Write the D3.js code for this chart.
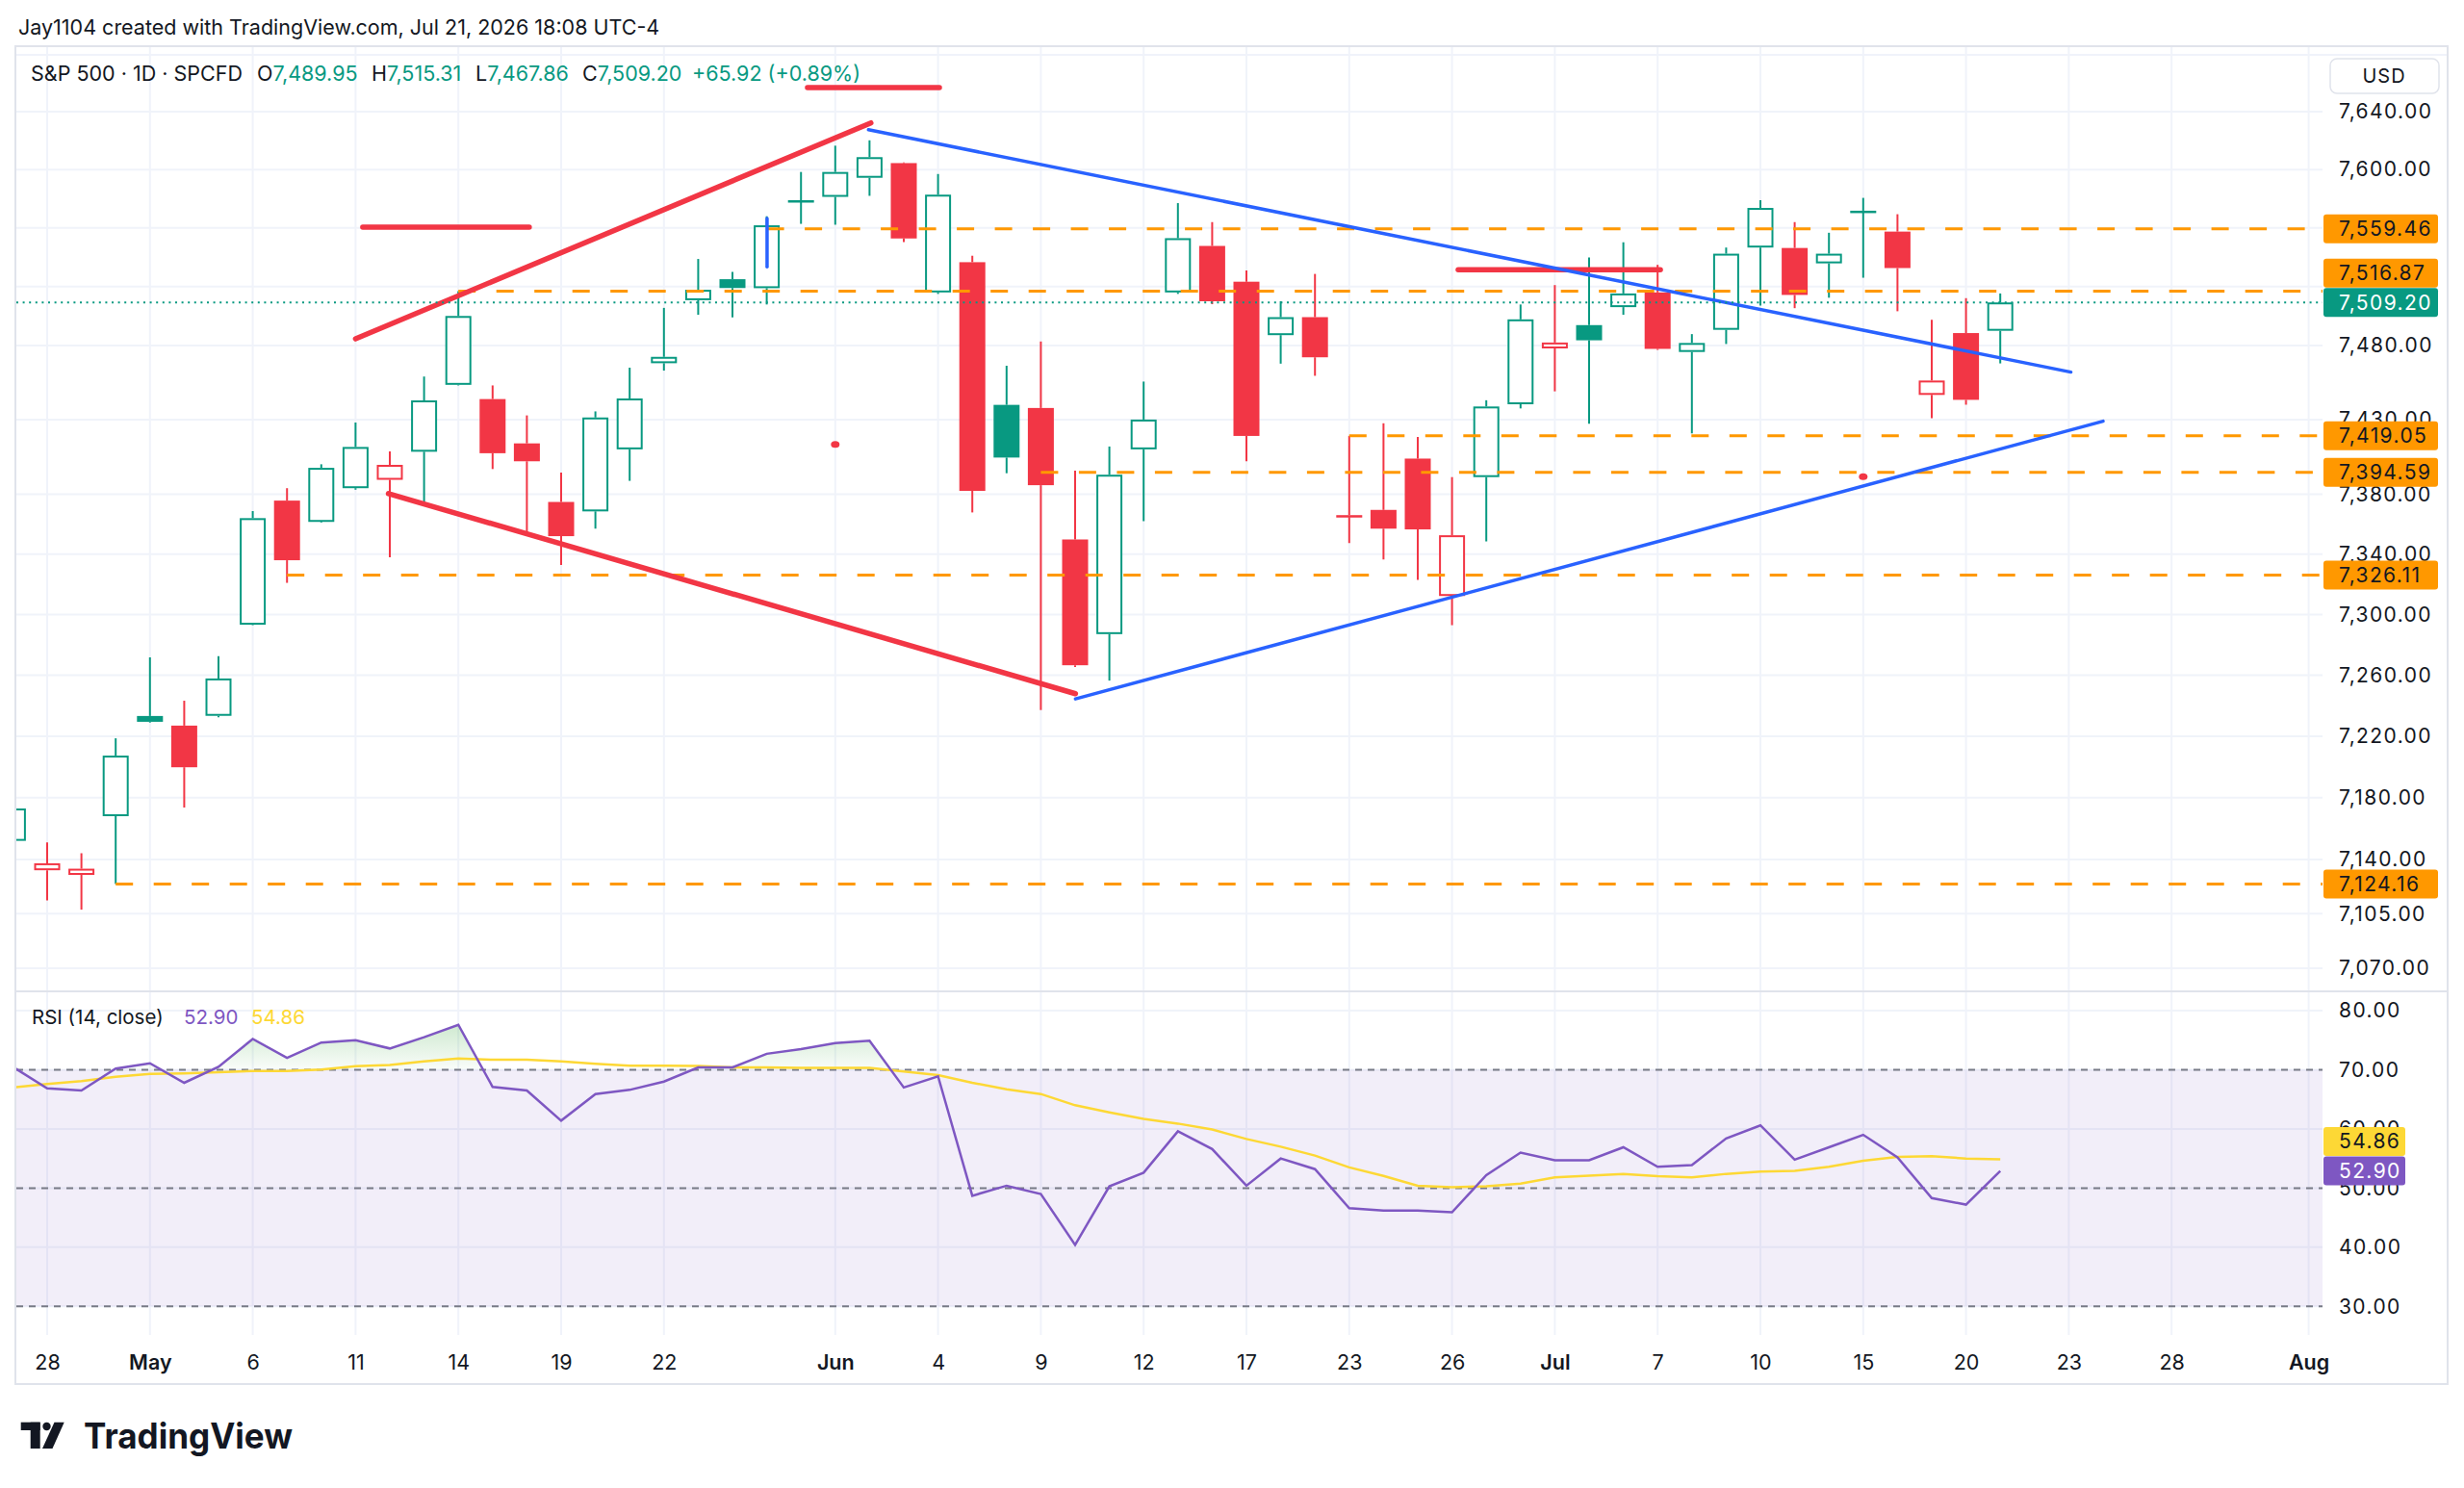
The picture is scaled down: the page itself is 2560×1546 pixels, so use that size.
<!DOCTYPE html>
<html>
<head>
<meta charset="utf-8">
<script src="https://cdn.jsdelivr.net/npm/d3@7"></script>
<style>
  html, body { margin: 0; padding: 0; background: #fff; }
  svg { display: block; font-family: Inter, "Noto Sans", sans-serif; }
</style>
</head>
<body>
<svg id="chart" width="2560" height="1546"></svg>
<script>
// trading sessions shown on the time scale (Apr 27 is cut at the left edge)
const sessions = [
  'Apr 27', 'Apr 28', 'Apr 29', 'Apr 30', 'May 1', 'May 4', 'May 5', 'May 6', 'May 7', 'May 8',
  'May 11', 'May 12', 'May 13', 'May 14', 'May 15', 'May 18', 'May 19', 'May 20', 'May 21', 'May 22',
  'May 26', 'May 27', 'May 28', 'May 29', 'Jun 1', 'Jun 2', 'Jun 3', 'Jun 4', 'Jun 5', 'Jun 8',
  'Jun 9', 'Jun 10', 'Jun 11', 'Jun 12', 'Jun 15', 'Jun 16', 'Jun 17', 'Jun 18', 'Jun 22', 'Jun 23',
  'Jun 24', 'Jun 25', 'Jun 26', 'Jun 29', 'Jun 30', 'Jul 1', 'Jul 2', 'Jul 6', 'Jul 7', 'Jul 8',
  'Jul 9', 'Jul 10', 'Jul 13', 'Jul 14', 'Jul 15', 'Jul 16', 'Jul 17', 'Jul 20', 'Jul 21', 'Jul 22',
  'Jul 23', 'Jul 24', 'Jul 27', 'Jul 28', 'Jul 29', 'Jul 30', 'Jul 31', 'Aug 3'
];

const open = [
  7152, 7133, 7130, 7168, 7233.3, 7227, 7233.4, 7293.3, 7375.7, 7361.5,
  7384, 7389.6, 7408.4, 7453.4, 7443.8, 7414, 7374.8, 7368.5, 7410, 7468,
  7510.7, 7525, 7518.9, 7578.5, 7581.3, 7594.4, 7604.5, 7516, 7536.6, 7439.9,
  7437.8, 7349.8, 7287.1, 7410, 7516, 7547.7, 7523.3, 7487, 7499.2, 7366,
  7369.5, 7403.8, 7312.3, 7391.4, 7440.3, 7478, 7493.8, 7506, 7516, 7475.6,
  7490.6, 7546.6, 7546.3, 7535.8, 7571.5, 7557.5, 7446.6, 7488.4, 7489.95
];
const high = [
  7178, 7151, 7144, 7218.7, 7271.8, 7243.3, 7272.6, 7368.7, 7384, 7400,
  7428, 7408.7, 7459, 7516.87, 7453, 7432.8, 7394.4, 7435.5, 7465, 7505.5,
  7538.8, 7530, 7568, 7598.4, 7616.5, 7620.2, 7605, 7597, 7541, 7466.3,
  7482.7, 7395.8, 7411.9, 7455.6, 7577, 7564, 7531, 7510, 7528.6, 7419.05,
  7427.5, 7418.3, 7391.4, 7443, 7507.8, 7521, 7539.8, 7550.2, 7534.8, 7487.7,
  7546.6, 7579, 7564, 7556.7, 7580.6, 7569.4, 7497.4, 7512.1, 7515.31
];
const low = [
  7148, 7113.5, 7107.6, 7124.16, 7229, 7173.6, 7232.5, 7293, 7321, 7361,
  7383, 7338, 7374.5, 7453, 7396.8, 7354.4, 7332.8, 7357, 7388.9, 7463,
  7500.8, 7499, 7507.8, 7562.8, 7562.2, 7582, 7550.3, 7515, 7367.8, 7394,
  7237.2, 7265.4, 7256.5, 7362, 7515, 7508, 7402, 7467.7, 7459.5, 7347.4,
  7336.5, 7323, 7293, 7348.5, 7437.5, 7449, 7427.2, 7500.8, 7477, 7420.7,
  7481, 7507, 7505.3, 7512.4, 7526, 7503.2, 7431, 7440, 7467.86
];
const close = [
  7173, 7137.5, 7134, 7207.4, 7229.5, 7199.8, 7257.9, 7364, 7336, 7397.6,
  7411.6, 7399.6, 7442.9, 7500, 7407.4, 7402, 7352, 7431.4, 7444.2, 7472.3,
  7517.8, 7519, 7561.8, 7579, 7598.4, 7608.6, 7552.8, 7582.8, 7382.2, 7404.5,
  7386, 7266.6, 7393, 7430, 7553, 7510, 7419, 7499.2, 7472, 7366,
  7357, 7356.5, 7352.6, 7438.8, 7497.7, 7482, 7483.5, 7515.3, 7477.7, 7481.7,
  7542.4, 7573.7, 7514.3, 7542.4, 7571.8, 7532.6, 7456.3, 7443.28, 7509.20
];

const rsi = [
  70.5, 66.85, 66.5, 70.2, 71.1, 67.8, 70.5, 75.2, 72.0, 74.6,
  75.0, 73.6, 75.5, 77.6, 67.1, 66.5, 61.4, 65.9, 66.6, 68.0,
  70.4, 70.4, 72.7, 73.5, 74.5, 74.9, 67.0, 68.9, 48.7, 50.4,
  49.0, 40.4, 50.3, 52.6, 59.6, 56.6, 50.4, 55.0, 53.2, 46.6,
  46.2, 46.2, 45.9, 52.2, 56.0, 54.7, 54.7, 56.9, 53.6, 53.9,
  58.4, 60.6, 54.8, 56.9, 59.0, 55.2, 48.3, 47.2, 52.90
];
const rsiMa = [
  67.0, 67.6, 68.1, 68.8, 69.3, 69.4, 69.6, 69.8, 69.8, 70.05,
  70.6, 70.8, 71.4, 71.9, 71.7, 71.7, 71.4, 71.0, 70.7, 70.7,
  70.65, 70.4, 70.4, 70.3, 70.3, 70.3, 69.7, 69.1, 67.8, 66.7,
  65.9, 64.0, 62.8, 61.7, 60.9, 59.9, 58.3, 57.0, 55.5, 53.5,
  52.05, 50.4, 50.15, 50.3, 50.75, 51.8, 52.1, 52.4, 52.0, 51.8,
  52.4, 52.8, 52.9, 53.6, 54.6, 55.25, 55.4, 55.0, 54.86
];

const priceTicks = [7640, 7600, 7560, 7520, 7480, 7430, 7380, 7340, 7300, 7260, 7220, 7180, 7140, 7105, 7070];
const rsiTicks = [80, 70, 60, 50, 40, 30];
const rsiBands = [70, 50, 30];

const tickDays = ['Apr 28', 'May 1', 'May 6', 'May 11', 'May 14', 'May 19', 'May 22', 'Jun 1', 'Jun 4', 'Jun 9', 'Jun 12',
  'Jun 17', 'Jun 23', 'Jun 26', 'Jul 1', 'Jul 7', 'Jul 10', 'Jul 15', 'Jul 20', 'Jul 23', 'Jul 28', 'Aug 3'];
const tickText = ['28', 'May', '6', '11', '14', '19', '22', 'Jun', '4', '9', '12',
  '17', '23', '26', 'Jul', '7', '10', '15', '20', '23', '28', 'Aug'];
const monthTicks = ['May', 'Jun', 'Jul', 'Aug'];

// horizontal rays and where they start
const levels = [7559.46, 7516.87, 7419.05, 7394.59, 7326.11, 7124.16];
const levelStart = ['May 28', 'May 14', 'Jun 23', 'Jun 9', 'May 7', 'Apr 30'];

// hand drawn lines, [session index, price]
const redLines = [
  [[10.0, 7484.5], [25.04, 7632.2]],
  [[10.96, 7380.4], [31.01, 7247.9]],
  [[10.21, 7560.5], [15.07, 7560.5]],
  [[23.19, 7656.7], [27.04, 7656.7]],
  [[42.18, 7531.5], [48.08, 7531.5]]
];
const blueLines = [
  [[24.97, 7627.5], [60.06, 7462.0]],
  [[31.01, 7244.5], [61.0, 7428.9]],
  [[22.01, 7566.5], [22.01, 7533.4]]
];
const redDots = [[24.0, 7413.3], [54.0, 7391.7]];

const green = '#089981', red = '#F23645', orange = '#FF9800', blue = '#2962FF',
      purple = '#7E57C2', yellow = '#FDD835', ink = '#131722', grid = '#F0F3FA', border = '#E0E3EB';

const left = 17, right = 2413, mainTop = 57, mainBottom = 1029, rsiTop = 1031, rsiBottom = 1387;

let svg = d3.select('#chart');
svg.append('rect').attr('width', 2560).attr('height', 1546).attr('fill', '#fff');

let x = d3.scaleLinear().domain([0, sessions.length - 1]).range([13.4, 13.4 + 35.6 * (sessions.length - 1)]),
    xd = d => x(sessions.indexOf(d)),
    y = d3.scaleLog().domain([7640, 7070]).range([116, 1006]),
    yR = d3.scaleLinear().domain([30, 80]).range([1357.3, 1050]);

let defs = svg.append('defs');
defs.append('clipPath').attr('id', 'clipMain')
  .append('rect').attr('x', left).attr('y', mainTop).attr('width', right - left).attr('height', mainBottom - mainTop);
defs.append('clipPath').attr('id', 'clipRsi')
  .append('rect').attr('x', left).attr('y', rsiTop).attr('width', right - left).attr('height', rsiBottom - rsiTop);
defs.append('clipPath').attr('id', 'clipOver')
  .append('rect').attr('x', left).attr('y', rsiTop).attr('width', right - left).attr('height', yR(70) - rsiTop);
let grad = defs.append('linearGradient').attr('id', 'obFill')
  .attr('gradientUnits', 'userSpaceOnUse').attr('x1', 0).attr('x2', 0).attr('y1', yR(78)).attr('y2', yR(70));
grad.append('stop').attr('offset', 0).attr('stop-color', '#4CAF50').attr('stop-opacity', 0.28);
grad.append('stop').attr('offset', 1).attr('stop-color', '#4CAF50').attr('stop-opacity', 0.03);

// grid
let gridG = svg.append('g').attr('stroke', grid).attr('stroke-width', 2);
gridG.selectAll('.vgrid').data(tickDays).enter().append('line')
  .attr('x1', d => xd(d)).attr('x2', d => xd(d)).attr('y1', 48).attr('y2', rsiBottom);
gridG.selectAll('.hgrid').data(priceTicks).enter().append('line')
  .attr('x1', left).attr('x2', right).attr('y1', d => y(d)).attr('y2', d => y(d));
gridG.selectAll('.rgrid').data(rsiTicks).enter().append('line')
  .attr('x1', left).attr('x2', right).attr('y1', d => yR(d)).attr('y2', d => yR(d));
gridG.append('line').attr('x1', left).attr('x2', 2543).attr('y1', mainTop).attr('y2', mainTop);

// candles
let candles = open.map((o, i) => ({
  pos: i, o, h: high[i], l: low[i], c: close[i], prev: i ? close[i - 1] : o
}));
let bw = 27;
let cg = svg.append('g').attr('clip-path', 'url(#clipMain)');
cg.selectAll('.candle').data(candles).enter().append('g')
  .attr('class', 'candle')
  .each(function (d) {
    let g = d3.select(this),
        col = d.c >= d.prev ? green : red,
        hollow = d.c >= d.o,
        cx = x(d.pos),
        top = y(Math.max(d.o, d.c)),
        bot = y(Math.min(d.o, d.c)),
        hgt = Math.max(bot - top, 2);
    g.append('line').attr('x1', cx).attr('x2', cx).attr('y1', y(d.h)).attr('y2', top)
      .attr('stroke', col).attr('stroke-width', 2);
    g.append('line').attr('x1', cx).attr('x2', cx).attr('y1', top + hgt).attr('y2', y(d.l))
      .attr('stroke', col).attr('stroke-width', 2);
    if (hollow) {
      g.append('rect').attr('x', cx - bw / 2 + 1).attr('y', top + 1)
        .attr('width', bw - 2).attr('height', Math.max(hgt - 2, 0.5))
        .attr('fill', '#fff').attr('stroke', col).attr('stroke-width', 2);
    } else {
      g.append('rect').attr('x', cx - bw / 2).attr('y', top)
        .attr('width', bw).attr('height', hgt).attr('fill', col);
    }
  });

// drawings
let dg = svg.append('g').attr('clip-path', 'url(#clipMain)');
dg.selectAll('.level').data(levels).enter().append('line')
  .attr('x1', (d, i) => xd(levelStart[i])).attr('x2', right)
  .attr('y1', d => y(d)).attr('y2', d => y(d))
  .attr('stroke', orange).attr('stroke-width', 3).attr('stroke-dasharray', '18 21.5');

let seg = d3.line().x(d => x(d[0])).y(d => y(d[1]));
dg.selectAll('.red-line').data(redLines).enter().append('path')
  .attr('d', seg).attr('fill', 'none').attr('stroke', red)
  .attr('stroke-width', 5.5).attr('stroke-linecap', 'round');
dg.selectAll('.blue-line').data(blueLines).enter().append('path')
  .attr('d', seg).attr('fill', 'none').attr('stroke', blue)
  .attr('stroke-width', 3.5).attr('stroke-linecap', 'round');
dg.selectAll('.dot').data(redDots).enter().append('ellipse')
  .attr('cx', d => x(d[0])).attr('cy', d => y(d[1])).attr('rx', 4.5).attr('ry', 3.5).attr('fill', red);

let last = candles[candles.length - 1];
dg.append('line').attr('x1', left).attr('x2', right).attr('y1', y(last.c)).attr('y2', y(last.c))
  .attr('stroke', green).attr('stroke-width', 2).attr('stroke-dasharray', '2 4.6');

// RSI pane
let rg = svg.append('g').attr('clip-path', 'url(#clipRsi)');
rg.append('rect').attr('x', left).attr('width', right - left)
  .attr('y', yR(70)).attr('height', yR(30) - yR(70)).attr('fill', 'rgba(126,87,194,0.1)');
rg.append('path').datum(rsi)
  .attr('clip-path', 'url(#clipOver)')
  .attr('d', d3.area().x((d, i) => x(i)).y0(yR(70)).y1(d => yR(d)))
  .attr('fill', 'url(#obFill)');
rg.selectAll('.band').data(rsiBands).enter().append('line')
  .attr('x1', left).attr('x2', right).attr('y1', d => yR(d)).attr('y2', d => yR(d))
  .attr('stroke', '#787B86').attr('stroke-width', 2).attr('stroke-dasharray', '7 6');
rg.append('path').datum(rsiMa)
  .attr('d', d3.line().x((d, i) => x(i)).y(d => yR(d)))
  .attr('fill', 'none').attr('stroke', yellow).attr('stroke-width', 2.5);
rg.append('path').datum(rsi)
  .attr('d', d3.line().x((d, i) => x(i)).y(d => yR(d)))
  .attr('fill', 'none').attr('stroke', purple).attr('stroke-width', 2.5);

// frame and pane divider
svg.append('rect').attr('x', 16).attr('y', 48).attr('width', 2527).attr('height', 1390)
  .attr('fill', 'none').attr('stroke', border).attr('stroke-width', 2);
svg.append('line').attr('x1', 16).attr('x2', 2543).attr('y1', 1030).attr('y2', 1030)
  .attr('stroke', border).attr('stroke-width', 2);

// price scale labels, pushed apart when they collide
let fmt = d3.format(',.2f');
function placeLabels (items, h) {
  let placed = [];
  items.forEach(it => {
    let cy = it.y, moved = true;
    while (moved) {
      moved = false;
      placed.forEach(p => {
        if (Math.abs(p.cy - cy) < h) {
          cy = it.y <= p.y ? p.cy - h : p.cy + h;
          moved = true;
        }
      });
    }
    placed.push(Object.assign({}, it, { cy }));
  });
  return placed;
}

let priceLabels = placeLabels(
  [{ y: y(last.c), text: fmt(last.c), bg: green, fg: '#fff' }]
    .concat(levels.map(v => ({ y: y(v), text: fmt(v), bg: orange, fg: ink }))),
  30.5);
let rsiLabels = placeLabels([
  { y: yR(rsi[rsi.length - 1]), text: rsi[rsi.length - 1].toFixed(2), bg: purple, fg: '#fff' },
  { y: yR(rsiMa[rsiMa.length - 1]), text: rsiMa[rsiMa.length - 1].toFixed(2), bg: yellow, fg: ink }
], 30.5);

// a tick label sitting wholly under the label boxes is not shown
let covered = v => [-7, 0, 7].every(o => priceLabels.some(p => Math.abs(y(v) + o - p.cy) <= 15));

// axes
let yAxis = svg.append('g').attr('transform', `translate(${right},0)`)
  .call(d3.axisRight(y).tickValues(priceTicks.filter(v => !covered(v)))
    .tickFormat(fmt).tickSize(0).tickPadding(17));
let rAxis = svg.append('g').attr('transform', `translate(${right},0)`)
  .call(d3.axisRight(yR).tickValues(rsiTicks).tickFormat(d3.format('.2f')).tickSize(0).tickPadding(17));
let xAxis = svg.append('g').attr('transform', 'translate(0,1415)')
  .call(d3.axisBottom(x).tickValues(tickDays.map(d => sessions.indexOf(d)))
    .tickFormat((d, i) => tickText[i]).tickSize(0).tickPadding(0));
[yAxis, rAxis, xAxis].forEach(a => {
  a.select('.domain').remove();
  a.attr('font-family', null).attr('font-size', null);
});
[yAxis, rAxis].forEach(a => a.selectAll('text').attr('fill', ink)
  .style('font-size', '21px').style('letter-spacing', '1.4px'));
xAxis.selectAll('text').attr('fill', ink).attr('y', 0).attr('dy', '0.35em').style('font-size', '21.5px')
  .style('font-weight', (d, i) => monthTicks.includes(tickText[i]) ? 600 : 400);

let lab = svg.append('g').selectAll('.plabel').data(priceLabels.map(d => Object.assign(d, { w: 119 }))
  .concat(rsiLabels.map(d => Object.assign(d, { w: 85 })))).enter().append('g');
lab.append('rect').attr('x', 2414).attr('y', d => d.cy - 15).attr('width', d => d.w).attr('height', 30)
  .attr('rx', 3).attr('fill', d => d.bg);
lab.append('text').attr('x', 2430).attr('y', d => d.cy).attr('dy', '0.35em')
  .attr('fill', d => d.fg).style('font-size', '21px').style('letter-spacing', '1.4px').text(d => d.text);

// USD button
svg.append('rect').attr('x', 2421).attr('y', 61).attr('width', 113).attr('height', 36).attr('rx', 7)
  .attr('fill', '#fff').attr('stroke', border).attr('stroke-width', 1.5);
svg.append('text').attr('x', 2477).attr('y', 79).attr('dy', '0.35em').attr('text-anchor', 'middle')
  .attr('fill', ink).style('font-size', '20px').style('letter-spacing', '1px').text('USD');

// header texts
svg.append('text').attr('x', 19).attr('y', 36).attr('fill', ink).style('font-size', '21.5px')
  .text('Jay1104 created with TradingView.com, Jul 21, 2026 18:08 UTC-4');

let chg = last.c - last.prev;
let legend = [
  { x: 32, k: 'S&P 500 · 1D · SPCFD', v: '' },
  { x: 267, k: 'O', v: fmt(last.o) },
  { x: 386, k: 'H', v: fmt(last.h) },
  { x: 494, k: 'L', v: fmt(last.l) },
  { x: 605, k: 'C', v: fmt(last.c) },
  { x: 719, k: '', v: `+${chg.toFixed(2)} (+${(chg / last.prev * 100).toFixed(2)}%)` }
];
let lt = svg.append('g').selectAll('text').data(legend).enter().append('text')
  .attr('x', d => d.x).attr('y', 84).style('font-size', '21.5px');
lt.append('tspan').attr('fill', ink).text(d => d.k);
lt.append('tspan').attr('fill', green).text(d => d.v);

svg.append('text').attr('x', 33).attr('y', 1064).style('font-size', '20.5px').attr('fill', ink)
  .text('RSI (14, close)');
svg.append('text').attr('x', 191).attr('y', 1064).style('font-size', '20.5px').attr('fill', purple)
  .text(rsi[rsi.length - 1].toFixed(2));
svg.append('text').attr('x', 261).attr('y', 1064).style('font-size', '20.5px').attr('fill', yellow)
  .text(rsiMa[rsiMa.length - 1].toFixed(2));

// TradingView watermark
let wm = svg.append('g').attr('fill', ink);
wm.append('rect').attr('x', 21.7).attr('y', 1477.7).attr('width', 20).attr('height', 8.3);
wm.append('rect').attr('x', 31.7).attr('y', 1477.7).attr('width', 10).attr('height', 27.3);
wm.append('circle').attr('cx', 48.5).attr('cy', 1482).attr('r', 4.2);
wm.append('polygon').attr('points', '56.5,1477.7 66.7,1477.7 54.5,1505 44,1505');
wm.append('text').attr('x', 87).attr('y', 1505).style('font-size', '37px').style('font-weight', 700)
  .attr('textLength', 217).attr('lengthAdjust', 'spacingAndGlyphs').text('TradingView');
</script>
</body>
</html>
